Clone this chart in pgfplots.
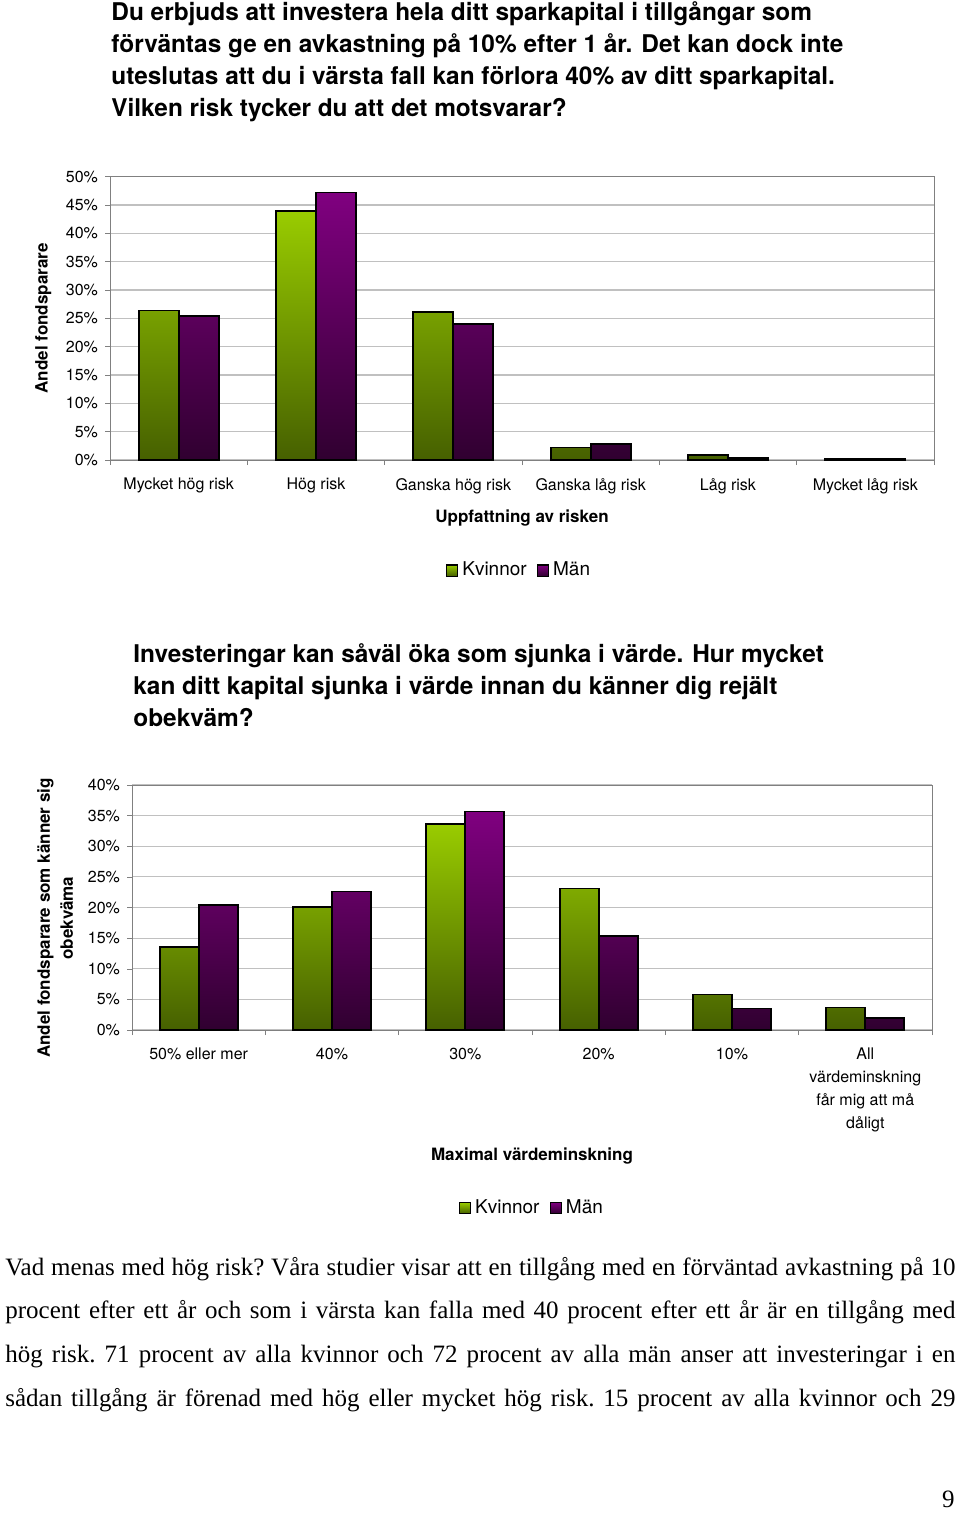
\documentclass[border=0pt]{standalone}
\usepackage{fontspec}
\setmainfont{Liberation Serif}
\setsansfont{TeX Gyre Heros}
\usepackage{pgfplots}
\pgfplotsset{compat=1.18}

\definecolor{grtop}{RGB}{153,204,0}
\definecolor{grmid}{RGB}{118,158,0}
\definecolor{grbot}{RGB}{70,96,0}
\definecolor{putop}{RGB}{128,0,128}
\definecolor{pumid}{RGB}{94,0,94}
\definecolor{pubot}{RGB}{48,0,48}
\definecolor{gridc}{RGB}{192,192,192}
\definecolor{axc}{RGB}{128,128,128}

\pgfplotsset{
  excelbar/.style={
    scale only axis,
    ybar=0pt,
    xmin=-0.5, xmax=5.5,
    ymin=0,
    xtick={0,...,5},
    minor xtick={-0.5,0.5,...,5.5},
    major x tick style={draw=none},
    minor x tick style={axc},
    y tick style={axc},
    tick align=outside,
    tick pos=left,
    major tick length=2.5pt,
    minor tick length=2.5pt,
    ymajorgrids,
    grid style={gridc, line width=0.6pt},
    axis line style={axc},
    /pgf/number format/assume math mode=true,
    yticklabel={\pgfmathprintnumber{\tick}\%},
    tick label style={font=\sffamily\fontsize{8}{11.5}\selectfont},
    yticklabel style={xshift=0pt},
    xticklabel style={align=center, yshift=-3pt},
    label style={font=\sffamily\bfseries\fontsize{8.5}{11.5}\selectfont},
    legend style={draw=none, fill=none, font=\sffamily\fontsize{9.5}{11}\selectfont,
      legend columns=2, anchor=center,
      /tikz/every even column/.append style={column sep=3pt}},
    legend image code/.code={\draw[#1, line width=0.6pt] (0pt,-2.8pt) rectangle (5.6pt,2.8pt);},
  },
  kv/.style={draw=black, line width=0.85pt, top color=grtop, middle color=grmid, bottom color=grbot},
  ma/.style={draw=black, line width=0.85pt, top color=putop, middle color=pumid, bottom color=pubot},
}

\begin{document}
\begin{tikzpicture}
\path[use as bounding box] (0pt,0pt) rectangle (480pt,-756.5pt);

% titles
\begin{scope}[every node/.style={anchor=base west, inner sep=0pt, font=\sffamily\bfseries\fontsize{12.2}{16}\selectfont}]
\node at (55.5pt,-10.5pt) {Du erbjuds att investera hela ditt sparkapital i tillgångar som};
\node at (55.5pt,-26.5pt) {förväntas ge en avkastning på 10\% efter 1 år. Det kan dock inte};
\node at (55.5pt,-42.5pt) {uteslutas att du i värsta fall kan förlora 40\% av ditt sparkapital.};
\node at (55.5pt,-58.5pt) {Vilken risk tycker du att det motsvarar?};
\node at (66.5pt,-331pt) {Investeringar kan såväl öka som sjunka i värde. Hur mycket};
\node at (66.5pt,-347pt) {kan ditt kapital sjunka i värde innan du känner dig rejält};
\node at (66.5pt,-363pt) {obekväm?};
\end{scope}

\begin{axis}[excelbar,
  at={(55pt,-230pt)}, anchor=south west,
  width=412pt, height=141.7pt,
  ymax=50, ytick={0,5,...,50},
  bar width=20pt,
  xticklabels={Mycket hög risk, Hög risk, Ganska hög risk, Ganska låg risk, Låg risk, Mycket låg risk},
  xlabel={Uppfattning av risken},
  xlabel style={at={(axis description cs:0.5,-0.205)}, anchor=center},
  ylabel={Andel fondsparare},
  ylabel style={at={(axis description cs:-0.081,0.5)}, anchor=center},
  legend style={at={(axis description cs:0.4976,-0.39)}},
]
\addplot[kv] coordinates {(0,26.4) (1,43.9) (2,26.1) (3,2.2) (4,0.9) (5,0.2)};
\addlegendentry{Kvinnor}
\addplot[ma] coordinates {(0,25.4) (1,47.2) (2,24.0) (3,2.8) (4,0.3) (5,0.2)};
\addlegendentry{Män}
\end{axis}

\begin{axis}[excelbar,
  at={(66pt,-515pt)}, anchor=south west,
  width=400pt, height=122.5pt,
  ymax=40, ytick={0,5,...,40},
  bar width=19.5pt,
  xticklabels={50\% eller mer, 40\%, 30\%, 20\%, 10\%, {All\\värdeminskning\\får mig att må\\dåligt}},
  xlabel={Maximal värdeminskning},
  xlabel style={at={(axis description cs:0.5,-0.515)}, anchor=center},
  ylabel={Andel fondsparare som känner sig\\obekväma},
  ylabel style={at={(axis description cs:-0.096,0.457)}, anchor=center, align=center},
  legend style={at={(axis description cs:0.501,-0.7265)}},
]
\addplot[kv] coordinates {(0,13.5) (1,20.1) (2,33.6) (3,23.1) (4,5.8) (5,3.7)};
\addlegendentry{Kvinnor}
\addplot[ma] coordinates {(0,20.4) (1,22.6) (2,35.7) (3,15.3) (4,3.5) (5,2.0)};
\addlegendentry{Män}
\end{axis}

% body text
\begin{scope}[every node/.style={anchor=base west, inner sep=0pt, font=\rmfamily\frenchspacing\fontsize{12.5}{13}\selectfont}]
\node at (2.5pt,-637.5pt) {\makebox[475pt][s]{Vad menas med hög risk? Våra studier visar att en tillgång med en förväntad avkastning på 10}};
\node at (2.5pt,-659.3pt) {\makebox[475pt][s]{procent efter ett år och som i värsta kan falla med 40 procent efter ett år är en tillgång med}};
\node at (2.5pt,-681.2pt) {\makebox[475pt][s]{hög risk. 71 procent av alla kvinnor och 72 procent av alla män anser att investeringar i en}};
\node at (2.5pt,-703pt) {\makebox[475pt][s]{sådan tillgång är förenad med hög eller mycket hög risk. 15 procent av alla kvinnor och 29}};
\node[anchor=base east] at (477.5pt,-753.5pt) {9};
\end{scope}
\end{tikzpicture}
\end{document}
